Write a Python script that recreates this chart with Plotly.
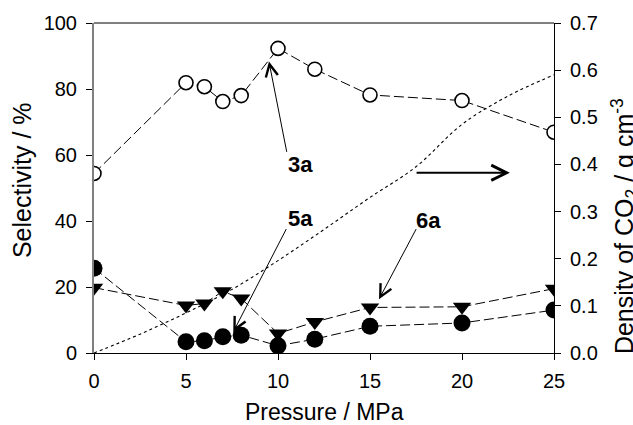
import plotly.graph_objects as go

pressure = [0, 5, 6, 7, 8, 10, 12, 15, 20, 25]
sel_3a = [54.4, 81.9, 80.7, 76.2, 78.0, 92.3, 86.0, 78.2, 76.5, 66.9]
sel_5a = [25.7, 3.4, 3.7, 4.9, 5.4, 2.2, 4.2, 8.1, 9.1, 13.0]
sel_6a = [19.8, 14.4, 15.0, 18.7, 16.5, 5.9, 9.4, 13.8, 14.0, 19.5]

dens_p = [0, 2.5, 5, 7.5, 10, 12.5, 15, 17.5, 20, 22.5, 25]
dens_co2 = [0, 0.04, 0.085, 0.135, 0.196, 0.262, 0.33, 0.395, 0.485, 0.545, 0.59]

x_ticks = [0, 5, 10, 15, 20, 25]
y_ticks = [0, 20, 40, 60, 80, 100]
y2_ticks = [0.0, 0.1, 0.2, 0.3, 0.4, 0.5, 0.6, 0.7]
y2_labels = ["0.0", "0.1", "0.2", "0.3", "0.4", "0.5", "0.6", "0.7"]

FONT = "Liberation Sans, Arial, sans-serif"

fig = go.Figure()

fig.add_trace(go.Scatter(
    x=dens_p, y=dens_co2, mode="lines", yaxis="y2",
    line=dict(color="black", width=1.1, dash="dot", shape="spline"),
    showlegend=False))

fig.add_trace(go.Scatter(
    x=pressure, y=sel_3a, mode="lines+markers",
    line=dict(color="black", width=1, dash="10px,4px"),
    marker=dict(symbol="circle", size=14, color="white",
                line=dict(color="black", width=1.6)),
    showlegend=False))

fig.add_trace(go.Scatter(
    x=pressure, y=sel_6a, mode="lines+markers",
    line=dict(color="black", width=1, dash="10px,4px"),
    marker=dict(symbol="triangle-down", size=16, color="black",
                line=dict(color="black", width=0)),
    showlegend=False))

fig.add_trace(go.Scatter(
    x=pressure, y=sel_5a, mode="lines+markers",
    line=dict(color="black", width=1, dash="10px,4px"),
    marker=dict(symbol="circle", size=17, color="black",
                line=dict(color="black", width=0)),
    showlegend=False))

# arrows: tip (x, y), tail (ax, ay), line width, head size
arrows = [
    (9.51, 88.3, 10.49, 60.5, 1, 2.4),
    (7.57, 6.4, 10.49, 38.0, 1, 2.4),
    (15.49, 16.3, 17.55, 38.0, 1, 2.4),
    (22.6, 54.6, 17.45, 54.6, 2, 1.5),
]
for tx, ty, sx, sy, w, s in arrows:
    fig.add_annotation(x=tx, y=ty, ax=sx, ay=sy, xref="x", yref="y",
                       axref="x", ayref="y", text="", showarrow=True,
                       arrowhead=5, arrowsize=s, arrowwidth=w,
                       arrowcolor="black")

labels = [("3a", 11.2, 57.2), ("5a", 11.2, 40.7), ("6a", 18.2, 40.1)]
for t, lx, ly in labels:
    fig.add_annotation(x=lx, y=ly, xref="x", yref="y", text="<b>%s</b>" % t,
                       showarrow=False, font=dict(size=22, color="black", family=FONT))

# axis titles
fig.add_annotation(x=0.5, y=-0.178, xref="paper", yref="paper",
                   xanchor="center", yanchor="middle",
                   text="Pressure / MPa", showarrow=False,
                   font=dict(size=23, color="black", family=FONT))
fig.add_annotation(x=-0.1565, y=0.524, xref="paper", yref="paper",
                   xanchor="center", yanchor="middle",
                   text="Selectivity / %", textangle=-90, showarrow=False,
                   font=dict(size=25, color="black", family=FONT))
fig.add_annotation(x=1.154, y=0.384, xref="paper", yref="paper",
                   xanchor="center", yanchor="middle",
                   text="Density of CO<sub>2</sub> / g cm<sup>-3</sup>", textangle=-90,
                   showarrow=False, font=dict(size=25, color="black", family=FONT))

fig.update_layout(
    width=633, height=425,
    margin=dict(l=94, r=79, t=21, b=72),
    paper_bgcolor="white", plot_bgcolor="white",
    font=dict(family=FONT, size=20, color="black"),
    xaxis=dict(range=[0, 25], tickvals=x_ticks, ticks="outside", ticklen=6,
               tickcolor="black", showline=True, linecolor="black", linewidth=1,
               showgrid=False, zeroline=False, mirror=False, ticklabelstandoff=4),
    yaxis=dict(range=[0, 100], tickvals=y_ticks, ticks="outside", ticklen=6,
               tickcolor="black", showline=True, linecolor="#808080", linewidth=2,
               showgrid=False, zeroline=False, ticklabelstandoff=5),
    yaxis2=dict(range=[0, 0.7], tickvals=y2_ticks, ticktext=y2_labels,
                overlaying="y", side="right", ticks="outside", ticklen=6,
                tickcolor="black", showline=True, linecolor="black", linewidth=1,
                showgrid=False, zeroline=False, ticklabelstandoff=5),
    shapes=[dict(type="line", xref="paper", yref="paper", x0=0, x1=1, y0=1, y1=1,
                 line=dict(color="black", width=1))],
)

fig.write_html("out.html", config={"displayModeBar": False},
               post_script="document.body.style.margin='0px';")
